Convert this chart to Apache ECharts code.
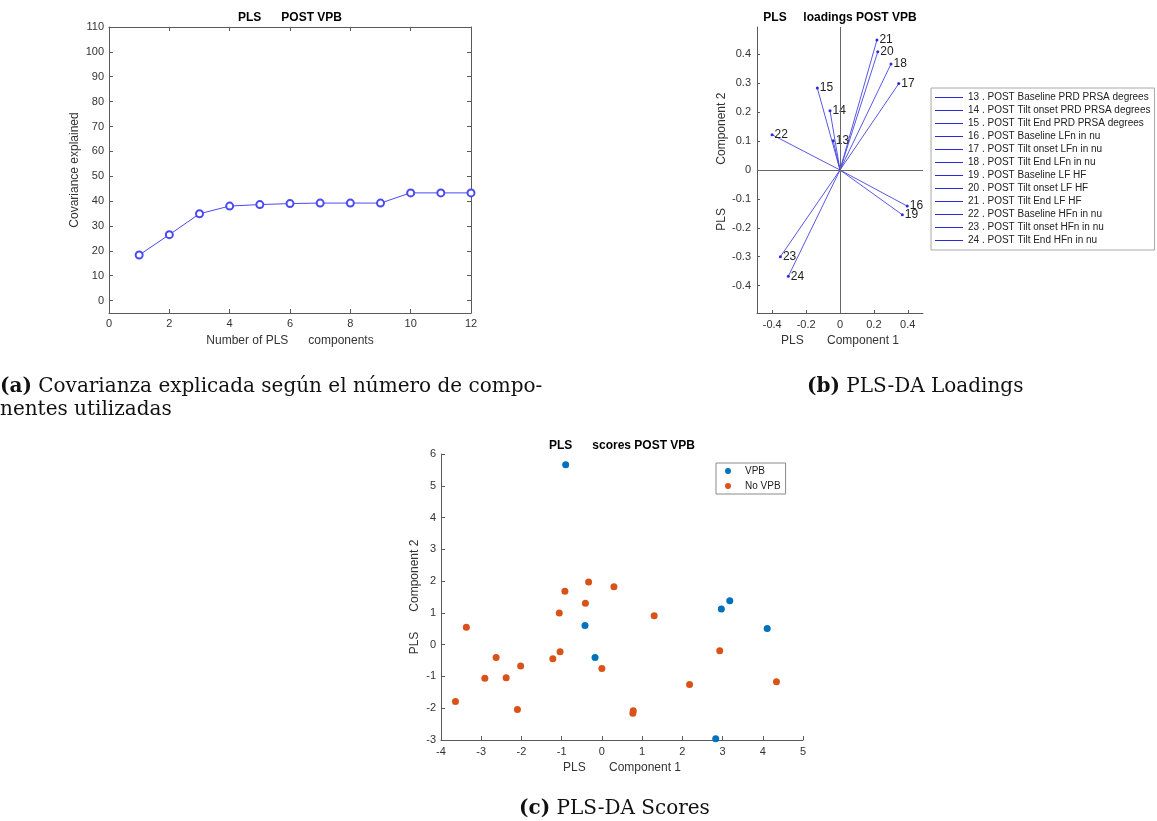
<!DOCTYPE html>
<html>
<head>
<meta charset="utf-8">
<script src="https://cdn.jsdelivr.net/npm/echarts@6/dist/echarts.min.js"></script>
<style>
html,body{margin:0;padding:0;background:#fff;}
#main{width:1157px;height:821px;}
</style>
</head>
<body>
<div id="main"></div>
<script>
// ---- Data: (a) covariance explained ----
const components = [1, 2, 3, 4, 5, 6, 7, 8, 9, 10, 11, 12];
const covariance = [18.3, 26.5, 34.9, 38.0, 38.6, 39.0, 39.2, 39.2, 39.2, 43.3, 43.3, 43.3];
const aYTicks = [0, 10, 20, 30, 40, 50, 60, 70, 80, 90, 100, 110];

// ---- Data: (b) loadings ----
const loadingIds = [13, 14, 15, 16, 17, 18, 19, 20, 21, 22, 23, 24];
const loadingNames = [
  '13 . POST Baseline PRD PRSA degrees',
  '14 . POST Tilt onset PRD PRSA degrees',
  '15 . POST Tilt End PRD PRSA degrees',
  '16 . POST Baseline LFn in nu',
  '17 . POST Tilt onset LFn in nu',
  '18 . POST Tilt End LFn in nu',
  '19 . POST Baseline LF HF',
  '20 . POST Tilt onset LF HF',
  '21 . POST Tilt End LF HF',
  '22 . POST Baseline HFn in nu',
  '23 . POST Tilt onset HFn in nu',
  '24 . POST Tilt End HFn in nu'
];
const loadingX = [-0.040, -0.059, -0.134, 0.397, 0.347, 0.301, 0.368, 0.223, 0.218, -0.401, -0.352, -0.305];
const loadingY = [0.101, 0.205, 0.284, -0.125, 0.299, 0.367, -0.155, 0.409, 0.450, 0.122, -0.300, -0.368];
const bXTicks = [-0.4, -0.2, 0, 0.2, 0.4];
const bYTicks = [-0.4, -0.3, -0.2, -0.1, 0, 0.1, 0.2, 0.3, 0.4];

// ---- Data: (c) scores ----
const vpbX = [-0.90, -0.42, -0.17, 2.97, 3.18, 4.11, 2.83];
const vpbY = [5.66, 0.60, -0.40, 1.12, 1.38, 0.51, -2.96];
const noVpbX = [-3.37, -3.64, -2.63, -2.91, -2.38, -2.02, -2.10, -1.22, -1.04, -1.06, -0.92, -0.33, -0.41, 0.30, 0.00, 1.30, 0.78, 0.77, 2.18, 2.93, 4.34];
const noVpbY = [0.55, -1.79, -0.40, -1.06, -1.04, -0.67, -2.04, -0.44, -0.22, 1.00, 1.68, 1.97, 1.30, 1.82, -0.75, 0.91, -2.08, -2.16, -1.25, -0.19, -1.17];

// ---- styling ----
const FONT = 'Liberation Sans, Arial, sans-serif';
const SERIF = 'DejaVu Serif, Liberation Serif, serif';
const axisCol = '#5a5a5a';
const textCol = '#333333';
const vecCol = '#4545e0';

function baseAxis(extra) {
  return Object.assign({
    type: 'value',
    splitLine: { show: false },
    axisLine: { show: true, onZero: false, lineStyle: { color: axisCol, width: 1 } },
    axisTick: { show: true, inside: true, length: 4, lineStyle: { color: axisCol } },
    axisLabel: { color: textCol, fontFamily: FONT, fontSize: 11 },
    nameTextStyle: { color: textCol, fontFamily: FONT, fontSize: 12 }
  }, extra);
}

function caption(text, left, top) {
  return {
    text: text, left: left, top: top, padding: 0,
    textStyle: { fontFamily: SERIF, fontSize: 20, fontWeight: 'normal', color: '#111', lineHeight: 23,
      rich: { b: { fontFamily: SERIF, fontSize: 20, fontWeight: 'bold', color: '#111', lineHeight: 23 } } }
  };
}

const chart = echarts.init(document.getElementById('main'), null, { renderer: 'canvas' });

const loadingSeries = loadingIds.map((id, i) => ({
  type: 'line',
  name: loadingNames[i],
  xAxisIndex: 2, yAxisIndex: 2,
  showSymbol: true,
  animation: false,
  lineStyle: { color: vecCol, width: 0.9 },
  itemStyle: { color: '#2a2ad8' },
  label: { show: false },
  emphasis: { disabled: true },
  data: [
    { value: [0, 0], symbol: 'none' },
    { value: [loadingX[i], loadingY[i]], symbol: 'circle', symbolSize: 3,
      label: { show: true, position: 'right', distance: 1, formatter: String(id),
               color: '#222', fontFamily: FONT, fontSize: 12 } }
  ]
}));

const option = {
  backgroundColor: '#ffffff',
  animation: false,
  title: [
    { text: 'PLS      POST VPB', left: 290, top: 12, textAlign: 'center', padding: 0,
      textStyle: { fontFamily: FONT, fontSize: 12, fontWeight: 'bold', color: '#000' } },
    { text: 'PLS     loadings POST VPB', left: 840, top: 12, textAlign: 'center', padding: 0,
      textStyle: { fontFamily: FONT, fontSize: 12, fontWeight: 'bold', color: '#000' } },
    { text: 'PLS      scores POST VPB', left: 622, top: 440, textAlign: 'center', padding: 0,
      textStyle: { fontFamily: FONT, fontSize: 12, fontWeight: 'bold', color: '#000' } },
    caption('{b|(a)} Covarianza explicada según el número de compo-\nnentes utilizadas', 0, 375),
    caption('{b|(b)} PLS-DA Loadings', 807, 375),
    caption('{b|(c)} PLS-DA Scores', 519, 797)
  ],
  legend: [
    {
      data: loadingNames, orient: 'vertical', left: 931, top: 88,
      padding: [3, 4, 3, 4], itemGap: 0, itemWidth: 28, itemHeight: 1, icon: 'rect',
      selectedMode: false, borderColor: '#a8a8a8', borderWidth: 1, backgroundColor: '#fff',
      textStyle: { fontFamily: FONT, fontSize: 10, color: '#222', lineHeight: 13 }
    },
    {
      data: ['VPB', 'No VPB'], orient: 'vertical', left: 716, top: 463,
      padding: [2, 5, 2, 9], itemGap: 3, itemWidth: 24, itemHeight: 6, icon: 'circle',
      selectedMode: false, borderColor: '#8a8a8a', borderWidth: 1, backgroundColor: '#fff',
      textStyle: { fontFamily: FONT, fontSize: 10, color: '#222', lineHeight: 12 }
    }
  ],
  grid: [
    { left: 109, top: 27, width: 362, height: 286, show: false },
    { left: 757, top: 27, width: 166, height: 286, show: false },
    { left: 441, top: 454, width: 362, height: 286, show: false }
  ],
  xAxis: [
    baseAxis({ gridIndex: 0, min: 0, max: 12, interval: 2, position: 'bottom',
      axisLabel: { color: textCol, fontFamily: FONT, fontSize: 11, margin: 5 },
      name: 'Number of PLS      components', nameLocation: 'middle', nameGap: 22 }),
    baseAxis({ gridIndex: 0, min: 0, max: 12, interval: 2, position: 'top',
      axisLabel: { show: false } }),
    baseAxis({ gridIndex: 1, min: -0.49, max: 0.49, position: 'bottom',
      axisTick: { show: true, inside: true, length: 3, customValues: bXTicks, lineStyle: { color: axisCol } },
      axisLabel: { color: textCol, fontFamily: FONT, fontSize: 11, margin: 6, customValues: bXTicks },
      name: 'PLS       Component 1', nameLocation: 'middle', nameGap: 22 }),
    baseAxis({ gridIndex: 2, min: -4, max: 5, interval: 1, position: 'bottom',
      axisLabel: { color: textCol, fontFamily: FONT, fontSize: 11, margin: 6 },
      name: 'PLS       Component 1', nameLocation: 'middle', nameGap: 22 })
  ],
  yAxis: [
    baseAxis({ gridIndex: 0, min: -5, max: 110, position: 'left',
      axisTick: { show: true, inside: true, length: 4, customValues: aYTicks, lineStyle: { color: axisCol } },
      axisLabel: { color: textCol, fontFamily: FONT, fontSize: 11, margin: 5, customValues: aYTicks },
      name: 'Covariance explained', nameLocation: 'middle', nameGap: 28, nameRotate: 90 }),
    baseAxis({ gridIndex: 0, min: -5, max: 110, position: 'right',
      axisTick: { show: true, inside: true, length: 4, customValues: aYTicks, lineStyle: { color: axisCol } },
      axisLabel: { show: false, customValues: aYTicks } }),
    baseAxis({ gridIndex: 1, min: -0.495, max: 0.495, position: 'left',
      axisTick: { show: true, inside: true, length: 3, customValues: bYTicks, lineStyle: { color: axisCol } },
      axisLabel: { color: textCol, fontFamily: FONT, fontSize: 11, margin: 6, customValues: bYTicks },
      name: '     PLS             Component 2', nameLocation: 'middle', nameGap: 28, nameRotate: 90 }),
    baseAxis({ gridIndex: 2, min: -3, max: 6, interval: 1, position: 'left',
      axisLabel: { color: textCol, fontFamily: FONT, fontSize: 11, margin: 5 },
      name: 'PLS      Component 2', nameLocation: 'middle', nameGap: 20, nameRotate: 90 })
  ],
  series: [
    {
      type: 'line', name: 'Covariance', xAxisIndex: 0, yAxisIndex: 0,
      data: components.map((c, i) => [c, covariance[i]]),
      symbol: 'emptyCircle', symbolSize: 7,
      lineStyle: { color: '#4a4af0', width: 1 },
      itemStyle: { color: '#4a4af0', borderColor: '#4a4af0', borderWidth: 1 },
      emphasis: { disabled: true }
    },
    {
      type: 'line', name: 'zero', xAxisIndex: 2, yAxisIndex: 2, data: [], silent: true,
      markLine: {
        silent: true, symbol: 'none', animation: false, label: { show: false },
        lineStyle: { color: '#666', width: 1, type: 'solid' },
        data: [{ xAxis: 0 }, { yAxis: 0 }]
      }
    },
    ...loadingSeries,
    {
      type: 'scatter', name: 'VPB', xAxisIndex: 3, yAxisIndex: 3,
      data: vpbX.map((x, i) => [x, vpbY[i]]),
      symbolSize: 7, itemStyle: { color: '#0072BD', opacity: 1 }, emphasis: { disabled: true }
    },
    {
      type: 'scatter', name: 'No VPB', xAxisIndex: 3, yAxisIndex: 3,
      data: noVpbX.map((x, i) => [x, noVpbY[i]]),
      symbolSize: 7, itemStyle: { color: '#D95319', opacity: 1 }, emphasis: { disabled: true }
    }
  ]
};
chart.setOption(option);
</script>
</body>
</html>
